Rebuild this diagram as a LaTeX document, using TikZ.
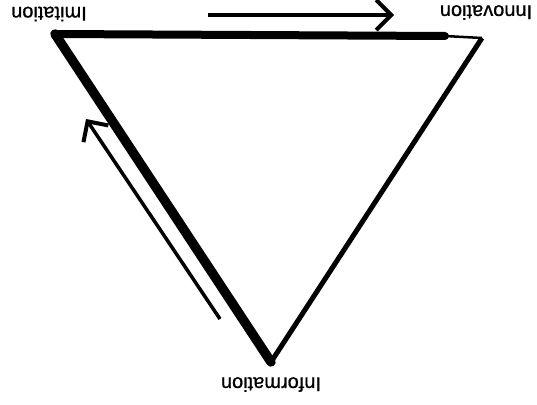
\documentclass[tikz,border=0pt]{standalone}
\usepackage{fontspec}
\setmainfont{Liberation Sans}
\newfontfamily\lblfont{Liberation Sans}[FakeBold=0.8]
\usetikzlibrary{arrows.meta}
\tikzset{
  lbl/.style={rotate=180, inner sep=0pt, font=\lblfont\fontsize{20}{24}\selectfont},
  flow/.style={line width=4pt, -{Straight Barb[length=15pt,width=30pt,line width=4pt]}},
}
\begin{document}
\begin{tikzpicture}[x=1pt,y=-1pt]
\useasboundingbox (0,0) rectangle (537,404);
\coordinate (tl) at (55,34);
\coordinate (tr) at (482,38);
\coordinate (tm) at (445,36);
\coordinate (bt) at (271,362);
% triangle edges
\draw[line width=9.5pt, line cap=round] (tl) -- (bt);
\draw[line width=5pt] (bt) -- (tr);
\draw[line width=8pt, line cap=round] (tl) -- (tm);
\draw[line width=2.5pt] (tm) -- (tr);
% labels
\node[lbl] (imi) at (49,14) {Imitation};
\node[lbl] (inn) at (486,12.5) {Innovation};
\node[lbl] (inf) at (271,384.5) {Information};
% arrows
\coordinate (a1s) at (208,15);
\coordinate (a1e) at (394,15);
\draw[flow] (a1s) -- (a1e);
\coordinate (a2s) at (220,319);
\coordinate (a2e) at (86,119);
\draw[flow, line width=3.5pt] (a2s) -- (a2e);
\end{tikzpicture}
\end{document}
